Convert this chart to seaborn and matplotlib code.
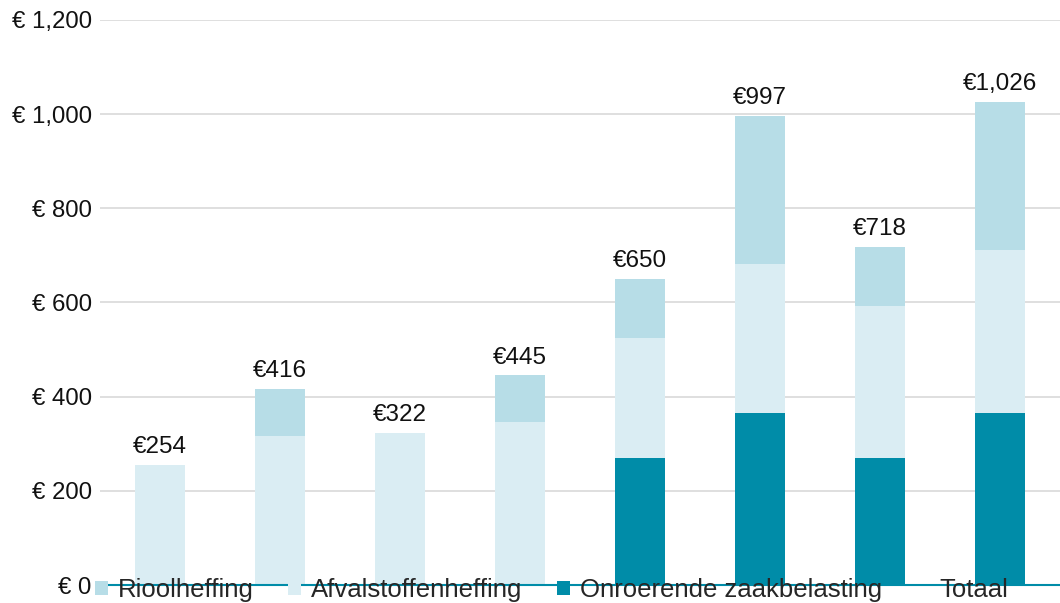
import pandas as pd
import matplotlib.pyplot as plt
import seaborn as sns
from matplotlib.patches import Patch

# data (euro per year)
categories = ["1", "2", "3", "4", "5", "6", "7", "8"]
ozb = [0, 0, 0, 0, 270, 365, 270, 365]          # Onroerende zaakbelasting
afval = [254, 317, 322, 347, 254, 317, 322, 347]  # Afvalstoffenheffing
riool = [0, 99, 0, 98, 126, 315, 126, 314]       # Rioolheffing
totals = [254, 416, 322, 445, 650, 997, 718, 1026]

c_riool = "#b7dde7"
c_afval = "#daedf3"
c_ozb = "#008ca8"

df = pd.DataFrame({"cat": categories, "ozb": ozb, "afval": afval, "riool": riool})
df["base_riool"] = df["ozb"] + df["afval"]

sns.set_theme(style="white")
plt.rcParams["font.family"] = ["Liberation Sans", "DejaVu Sans"]

fig = plt.figure(figsize=(10.6, 6.03), dpi=100)
ax = fig.add_axes([100 / 1060, 18 / 603, 960 / 1060, 565 / 603])

sns.barplot(data=df, x="cat", y="ozb", color=c_ozb, width=0.41, ax=ax,
            saturation=1, linewidth=0, zorder=3)
sns.barplot(data=df, x="cat", y="afval", bottom=df["ozb"], color=c_afval, width=0.41,
            ax=ax, saturation=1, linewidth=0, zorder=3)
sns.barplot(data=df, x="cat", y="riool", bottom=df["base_riool"], color=c_riool,
            width=0.41, ax=ax, saturation=1, linewidth=0, zorder=3)

# total labels above each stack
for i, t in enumerate(totals):
    ax.annotate(f"€{t:,}", xy=(i, t), xytext=(0, 5), textcoords="offset points",
                ha="center", va="bottom", fontsize=17.5, color="#111111")

ax.set_ylim(0, 1200)
ax.set_xlim(-0.5, 7.5)
yt = [0, 200, 400, 600, 800, 1000, 1200]
ax.set_yticks(yt)
ax.set_yticklabels([f"€ {v:,}" for v in yt], fontsize=17.3, color="#111111")
ax.tick_params(axis="y", length=0, pad=6)
ax.set_xticks([])
ax.set_xlabel("")
ax.set_ylabel("")
ax.yaxis.grid(True, color="#d9d9d9", linewidth=1.2, zorder=0)
ax.set_axisbelow(True)
for s in ["left", "right", "top"]:
    ax.spines[s].set_visible(False)
ax.spines["bottom"].set_color(c_ozb)
ax.spines["bottom"].set_linewidth(1.5)
ax.spines["bottom"].set_zorder(4)

handles = [
    Patch(facecolor=c_riool, edgecolor="none"),
    Patch(facecolor=c_afval, edgecolor="none"),
    Patch(facecolor=c_ozb, edgecolor="none"),
    Patch(facecolor="none", edgecolor="none"),
]
labels = ["Rioolheffing", "Afvalstoffenheffing", "Onroerende zaakbelasting", "Totaal"]
fig.legend(handles, labels, ncol=4, loc="center left",
           bbox_to_anchor=(95 / 1060, 13 / 603), frameon=False, fontsize=18.5,
           handlelength=0.5, handleheight=0.5, handletextpad=0.4,
           columnspacing=1.33, borderpad=0, borderaxespad=0)

fig.savefig("out.png", dpi=100)
